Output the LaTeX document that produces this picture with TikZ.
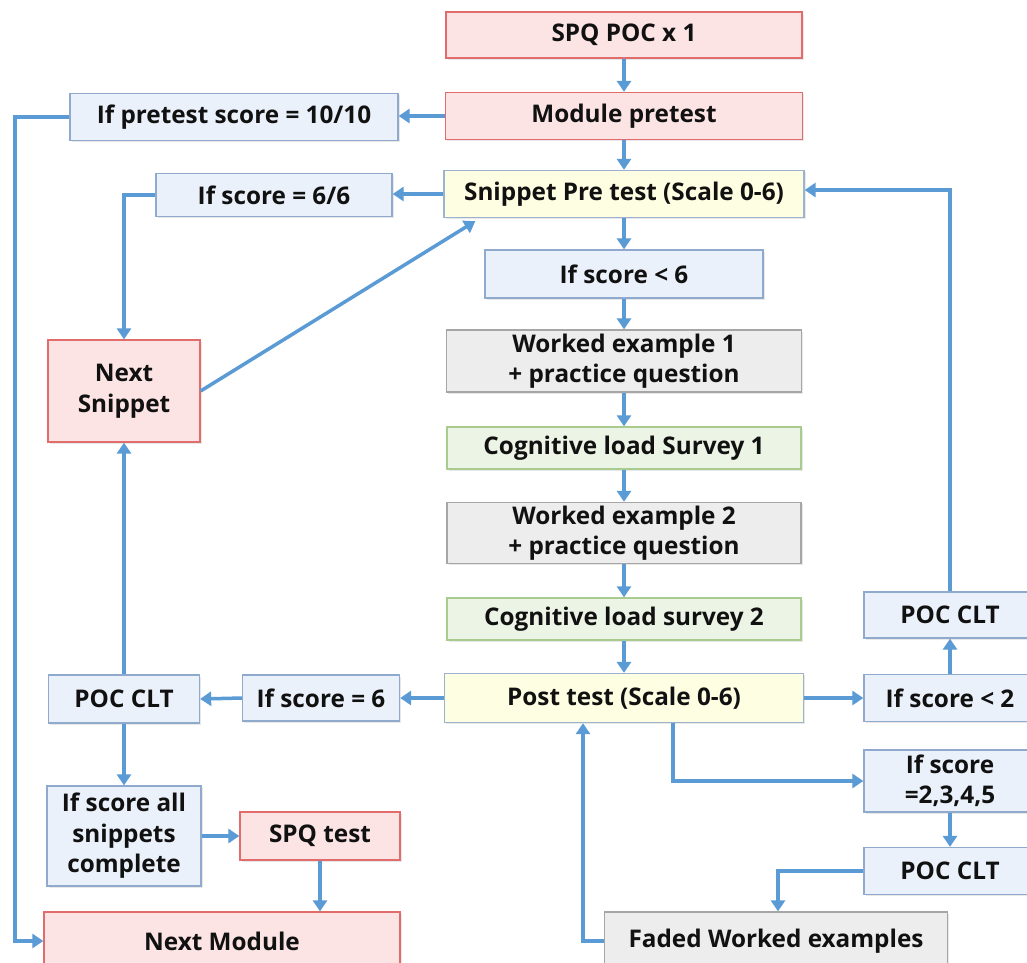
\documentclass[tikz,border=0pt]{standalone}
\usepackage{fontspec}
\setmainfont{Open Sans}
\usetikzlibrary{arrows.meta,shadows}
\definecolor{arr}{HTML}{5B9BD5}
\definecolor{redf}{HTML}{FCE4E4}
\definecolor{redd}{HTML}{E06C6C}
\definecolor{bluef}{HTML}{EAF1FA}
\definecolor{blued}{HTML}{8FAACC}
\definecolor{yelf}{HTML}{FEFEE2}
\definecolor{yeld}{HTML}{9DB2CF}
\definecolor{grayf}{HTML}{EDEDED}
\definecolor{grayd}{HTML}{A6A6A6}
\definecolor{greenf}{HTML}{ECF4E6}
\definecolor{greend}{HTML}{A9CB8F}
\definecolor{txt}{HTML}{111111}
\begin{document}
\begin{tikzpicture}[x=1pt,y=-1pt,
  bx/.style={draw, line width=1.3pt, inner sep=0pt, align=center, text=txt,
    font=\fontsize{24.3}{30.5}\selectfont\bfseries,
    drop shadow={opacity=0.18, shadow xshift=1.5pt, shadow yshift=-1.5pt}},
  redb/.style={bx, fill=redf, draw=redd},
  blueb/.style={bx, fill=bluef, draw=blued},
  yelb/.style={bx, fill=yelf, draw=yeld},
  grayb/.style={bx, fill=grayf, draw=grayd},
  greenb/.style={bx, fill=greenf, draw=greend},
  ar/.style={draw=arr, line width=3.5pt, -{Triangle[length=11pt,width=14pt]}}]
\useasboundingbox (0,0) rectangle (1027,962);
\fill[white] (0,0) rectangle (1027,962);

% center column
\node[redb, minimum width=356pt, minimum height=46pt] (spq) at (624,35) {SPQ POC x 1};
\node[redb, minimum width=357pt, minimum height=47pt] (mpre) at (624,116) {Module pretest};
\node[yelb, minimum width=360pt, minimum height=47pt] (snip) at (624,194) {Snippet Pre test (Scale 0-6)};
\node[blueb, minimum width=278pt, minimum height=48pt] (ifl6) at (624,274) {If score < 6};
\node[grayb, minimum width=355pt, minimum height=62pt] (we1) at (624,361) {Worked example 1\\+ practice question};
\node[greenb, minimum width=354pt, minimum height=42pt] (cls1) at (624,448) {Cognitive load Survey 1};
\node[grayb, minimum width=354pt, minimum height=61pt] (we2) at (624,533) {Worked example 2\\+ practice question};
\node[greenb, minimum width=354pt, minimum height=42pt] (cls2) at (624,619) {Cognitive load survey 2};
\node[yelb, minimum width=359pt, minimum height=49pt] (post) at (624,698) {Post test (Scale 0-6)};

% left side
\node[blueb, minimum width=328pt, minimum height=47pt] (ifpre) at (234,117) {If pretest score = 10/10};
\node[blueb, minimum width=236pt, minimum height=43pt] (if66) at (274,195) {If score = 6/6};
\node[redb, minimum width=152pt, minimum height=102pt] (nsnip) at (124,391) {Next\\Snippet};
\node[blueb, minimum width=157pt, minimum height=46pt] (ifs6) at (321,698) {If score = 6};
\node[blueb, minimum width=151pt, minimum height=48pt] (poc1) at (124,699) {POC CLT};
\node[blueb, minimum width=154pt, minimum height=100pt] (ifall) at (124,836) {If score all\\snippets\\complete};
\node[redb, minimum width=160pt, minimum height=48pt] (spqt) at (320,836) {SPQ test};
\node[redb, minimum width=356pt, minimum height=58pt] (nmod) at (222,941) {Next Module};

% right side
\node[blueb, minimum width=172pt, minimum height=47pt] (ifl2) at (950,698) {If score < 2};
\node[blueb, minimum width=172pt, minimum height=46pt] (pocr1) at (950,615) {POC CLT};
\node[blueb, minimum width=172pt, minimum height=62pt] (if2345) at (950,781) {If score\\=2,3,4,5};
\node[blueb, minimum width=172pt, minimum height=47pt] (pocr2) at (950,871) {POC CLT};
\node[grayb, minimum width=343pt, minimum height=58pt] (faded) at (776,941) {Faded Worked examples};

% connectors
\coordinate (lft) at (15,117);
\draw[ar] (spq) -- (mpre);
\draw[ar] (mpre.west) -- (mpre.west -| ifpre.east);
\draw[ar] (ifpre.west) -- (lft) |- (nmod.west);
\draw[ar] (mpre) -- (snip);
\draw[ar] (snip.west) -- (snip.west -| if66.east);
\draw[ar] (if66.west) -| (nsnip.north);
\draw[ar] (nsnip.east) -- ([xshift=32pt,yshift=-3pt]snip.south west);
\draw[ar] (snip) -- (ifl6);
\draw[ar] (ifl6) -- (we1);
\draw[ar] (we1) -- (cls1);
\draw[ar] (cls1) -- (we2);
\draw[ar] (we2) -- (cls2);
\draw[ar] (cls2) -- (post);
\draw[ar] (post.west) -- (ifs6.east);
\draw[ar] (ifs6.west) -- (poc1.east);
\draw[ar] (poc1) -- (nsnip);
\draw[ar] (poc1) -- (ifall);
\draw[ar] (ifall.east) -- (ifall.east -| spqt.west);
\draw[ar] (spqt.south) -- (spqt.south |- nmod.north);
\draw[ar] (post.east) -- (ifl2.west);
\draw[ar] (ifl2) -- (pocr1);
\draw[ar] (pocr1.north) |- ([yshift=4pt]snip.east);
\draw[ar] ([xshift=49pt]post.south) |- (if2345.west);
\draw[ar] (if2345) -- (pocr2);
\draw[ar] (pocr2.west) -| ([xshift=2pt]faded.north);
\draw[ar] (faded.west) -| ([xshift=-41pt]post.south);
\end{tikzpicture}
\end{document}
